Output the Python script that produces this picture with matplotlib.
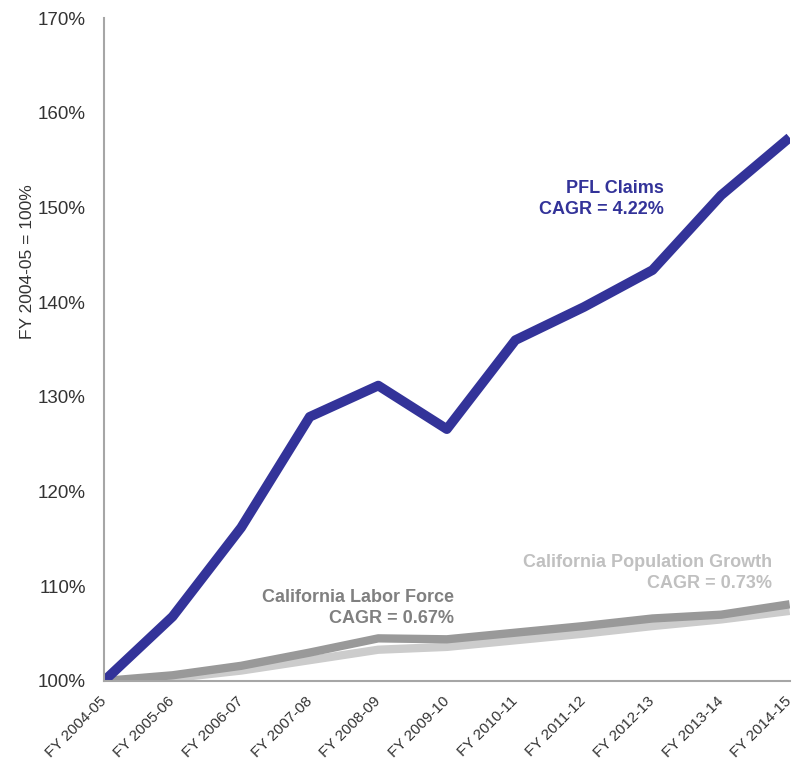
import matplotlib
matplotlib.use('Agg')
import matplotlib.pyplot as plt
from matplotlib.ticker import FuncFormatter

plt.rcParams['font.family'] = ['Liberation Sans', 'DejaVu Sans']

years = ['FY 2004-05', 'FY 2005-06', 'FY 2006-07', 'FY 2007-08', 'FY 2008-09',
         'FY 2009-10', 'FY 2010-11', 'FY 2011-12', 'FY 2012-13', 'FY 2013-14',
         'FY 2014-15']
pfl_claims = [100, 106.8, 116.2, 127.9, 131.2, 126.6, 136.0, 139.5, 143.4, 151.3, 157.4]
labor_force = [100, 100.6, 101.6, 103.0, 104.5, 104.4, 105.1, 105.8, 106.6, 107.0, 108.1]
population = [100, 100.3, 101.1, 102.2, 103.3, 103.6, 104.3, 105.0, 105.8, 106.5, 107.4]

navy = '#333399'
dark_gray = '#999999'
light_gray = '#cccccc'

fig = plt.figure(figsize=(7.96, 7.60), dpi=100)
ax = fig.add_axes([0.1307, 0.104, 0.8613, 0.872])

x = range(len(years))
ax.plot(x, population, color=light_gray, lw=6, solid_capstyle='butt', solid_joinstyle='round')
ax.plot(x, labor_force, color=dark_gray, lw=6, solid_capstyle='butt', solid_joinstyle='round')
ax.plot(x, pfl_claims, color=navy, lw=7, solid_capstyle='butt', solid_joinstyle='round')

ax.set_xlim(0, len(years) - 1)
ax.set_ylim(100, 170)
ax.set_yticks(range(100, 171, 10))
ax.yaxis.set_major_formatter(FuncFormatter(lambda v, p: '%d%%' % v))
ax.set_xticks(list(x))
ax.set_xticklabels(years, rotation=45, ha='right', va='center', rotation_mode='anchor')

for s in ['top', 'right']:
    ax.spines[s].set_visible(False)
for s in ['left', 'bottom']:
    ax.spines[s].set_color('#a6a6a6')
    ax.spines[s].set_linewidth(1.5)
ax.tick_params(length=0, colors='#333333')
ax.tick_params(axis='y', pad=13, labelsize=13.5)
ax.tick_params(axis='x', pad=13, labelsize=11)

ax.set_ylabel('FY 2004-05 = 100%', fontsize=12.5, color='#333333')
ax.yaxis.set_label_coords(-0.100, 0.632)

ax.text(8.16, 150.9, 'PFL Claims\nCAGR = 4.22%', color=navy, fontsize=13,
        fontweight='bold', ha='right', va='center', linespacing=1.27)
ax.text(5.11, 107.7, 'California Labor Force\nCAGR = 0.67%', color='#808080',
        fontsize=13, fontweight='bold', ha='right', va='center', linespacing=1.27)
ax.text(9.74, 111.4, 'California Population Growth\nCAGR = 0.73%', color='#c0c0c0',
        fontsize=13, fontweight='bold', ha='right', va='center', linespacing=1.27)

fig.savefig('out.png', dpi=100)
